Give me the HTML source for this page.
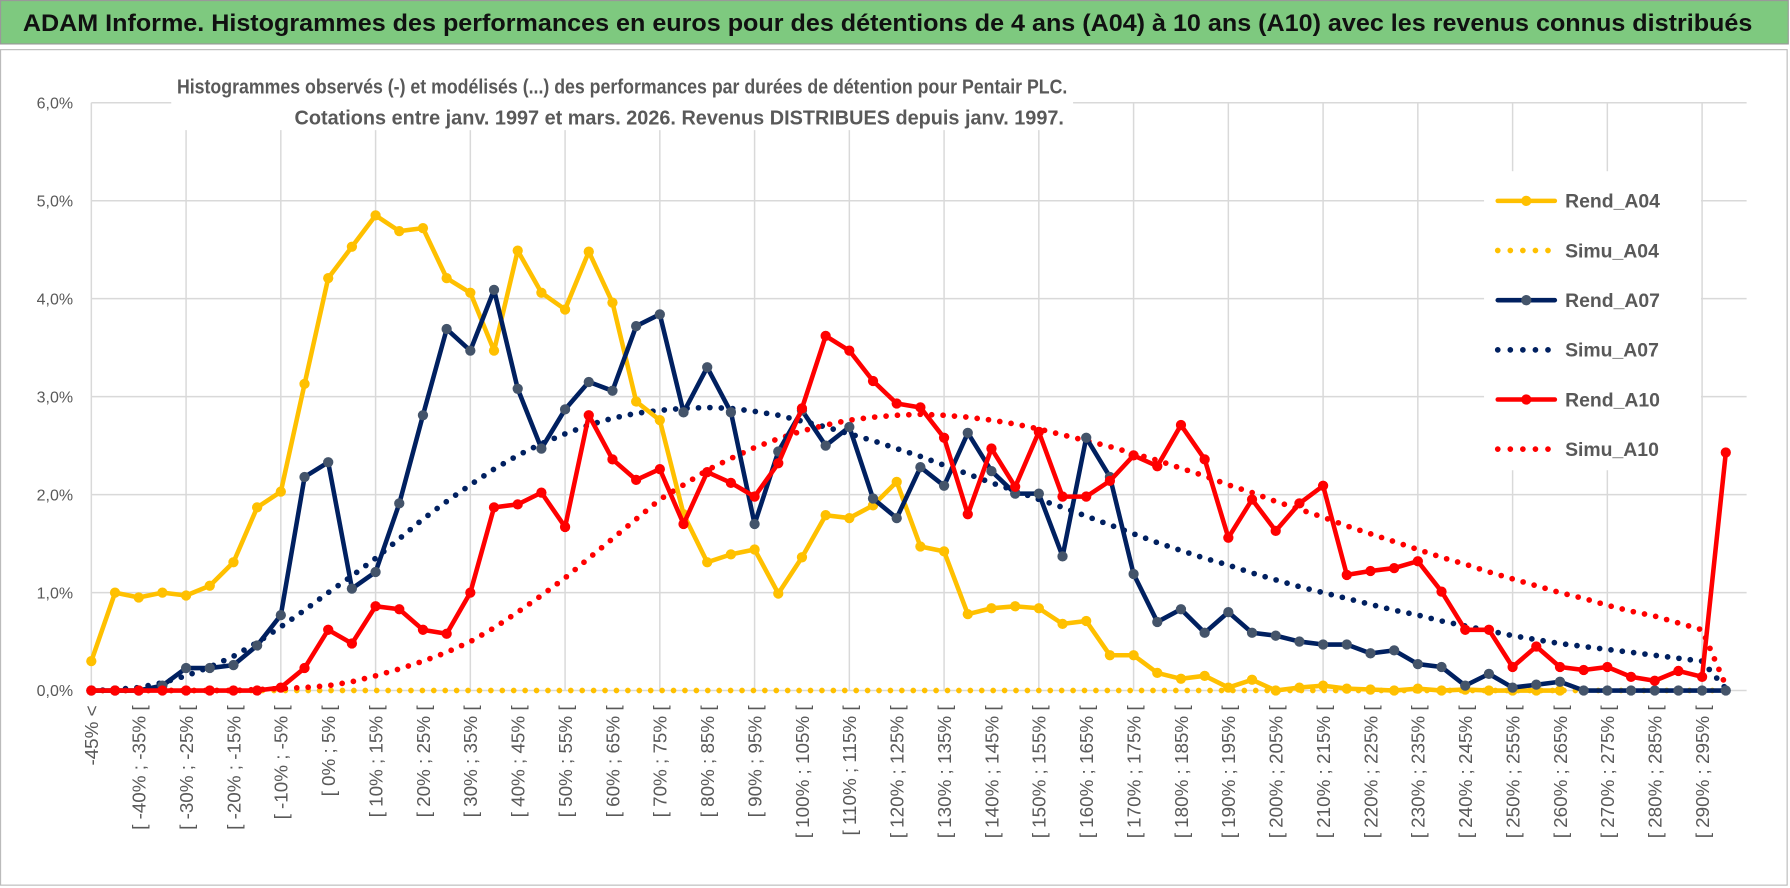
<!DOCTYPE html>
<html><head><meta charset="utf-8"><style>
html,body{margin:0;padding:0;background:#fff;}
svg{display:block;}
text{font-family:"Liberation Sans",sans-serif;}
</style></head><body>
<svg id="chart" width="1790" height="888" viewBox="0 0 1568 778" preserveAspectRatio="none" xmlns="http://www.w3.org/2000/svg">
<rect x="0" y="0" width="1568" height="778" fill="#fff"/>
<rect x="0.5" y="0.5" width="1566" height="38" fill="#7EC97F" stroke="#999" stroke-width="1"/>
<text x="20" y="27" font-size="21" font-weight="bold" fill="#111" textLength="1515" lengthAdjust="spacingAndGlyphs">ADAM Informe. Histogrammes des performances en euros pour des détentions de 4 ans (A04) à 10 ans (A10) avec les revenus connus distribués</text>
<rect x="0.5" y="43.5" width="1565" height="732" fill="#fff" stroke="#bbb" stroke-width="1"/>
<g id="grid"></g>
<g id="yaxis"></g>
<g id="xaxis"></g>
<rect x="150" y="58" width="790" height="56" fill="#fff"/>
<text x="155" y="82" font-size="18" font-weight="bold" fill="#595959" textLength="780" lengthAdjust="spacingAndGlyphs">Histogrammes observés (-) et modélisés (...) des performances par durées de détention pour Pentair PLC.</text>
<text x="258" y="109" font-size="18" font-weight="bold" fill="#595959" textLength="674" lengthAdjust="spacingAndGlyphs">Cotations entre janv. 1997 et mars. 2026. Revenus DISTRIBUES depuis janv. 1997.</text>
<g id="series"></g>
<g id="legend"></g>
</svg>
<script>
const yTicks = [0,1,2,3,4,5,6];
const yTickLabels = ["0,0%","1,0%","2,0%","3,0%","4,0%","5,0%","6,0%"];
const binStarts = [-45,-40,-35,-30,-25,-20,-15,-10,-5,0,5,10,15,20,25,30,35,40,45,50,55,60,65,70,75,80,85,90,95,100,105,110,115,120,125,130,135,140,145,150,155,160,165,170,175,180,185,190,195,200,205,210,215,220,225,230,235,240,245,250,255,260,265,270,275,280,285,290,295];
const rendA04 = [0.30,1.00,0.95,1.00,0.97,1.07,1.31,1.87,2.03,3.13,4.21,4.53,4.85,4.69,4.72,4.21,4.06,3.47,4.49,4.06,3.89,4.48,3.96,2.95,2.76,1.80,1.31,1.39,1.44,0.99,1.36,1.79,1.76,1.89,2.13,1.47,1.42,0.78,0.84,0.86,0.84,0.68,0.71,0.36,0.36,0.18,0.12,0.15,0.03,0.11,0.00,0.03,0.05,0.02,0.01,0.00,0.02,0.00,0.01,0.00,0.00,0.00,0.00,null,null,null,null,null,null,null];
const simuA04 = [0,0,0,0,0,0,0,0,0,0,0,0,0,0,0,0,0,0,0,0,0,0,0,0,0,0,0,0,0,0,0,0,0,0,0,0,0,0,0,0,0,0,0,0,0,0,0,0,0,0,0,0,0,0,0,0,0,0,0,0,0,0,0,0,0,0,0,0,0,0];
const rendA07 = [0,0,0,0.05,0.23,0.23,0.26,0.46,0.77,2.18,2.33,1.04,1.21,1.91,2.81,3.69,3.47,4.09,3.08,2.47,2.87,3.15,3.06,3.72,3.84,2.84,3.30,2.84,1.70,2.44,2.86,2.50,2.69,1.96,1.76,2.28,2.09,2.63,2.24,2.01,2.01,1.37,2.58,2.18,1.19,0.70,0.83,0.59,0.80,0.59,0.56,0.50,0.47,0.47,0.38,0.41,0.27,0.24,0.05,0.17,0.03,0.06,0.09,0,0,0,0,0,0,0];
const simuA07 = [0,0.01,0.03,0.08,0.15,0.24,0.35,0.49,0.65,0.82,1.00,1.17,1.35,1.55,1.75,1.93,2.10,2.26,2.40,2.52,2.62,2.71,2.78,2.83,2.86,2.88,2.89,2.88,2.85,2.81,2.75,2.69,2.62,2.55,2.47,2.39,2.30,2.21,2.12,2.04,1.95,1.87,1.78,1.69,1.60,1.51,1.43,1.35,1.28,1.20,1.13,1.06,1.00,0.94,0.88,0.82,0.77,0.71,0.66,0.61,0.56,0.52,0.48,0.45,0.42,0.39,0.36,0.33,0.30,0.02];
const rendA10 = [0,0,0,0,0,0,0,0,0.03,0.23,0.62,0.48,0.86,0.83,0.62,0.58,1.00,1.87,1.90,2.02,1.67,2.81,2.36,2.15,2.26,1.70,2.23,2.12,1.98,2.32,2.88,3.62,3.47,3.16,2.93,2.89,2.58,1.80,2.47,2.08,2.64,1.98,1.98,2.14,2.40,2.29,2.71,2.36,1.56,1.95,1.63,1.91,2.09,1.18,1.22,1.25,1.32,1.01,0.62,0.62,0.24,0.45,0.24,0.21,0.24,0.14,0.10,0.20,0.14,2.43];
const simuA10 = [0,0,0,0,0,0,0,0.01,0.02,0.03,0.05,0.09,0.15,0.22,0.30,0.39,0.50,0.64,0.80,0.97,1.15,1.35,1.55,1.75,1.95,2.10,2.25,2.37,2.48,2.57,2.65,2.71,2.76,2.79,2.81,2.82,2.81,2.79,2.76,2.72,2.67,2.61,2.55,2.49,2.42,2.35,2.27,2.19,2.10,2.02,1.93,1.85,1.77,1.68,1.60,1.52,1.44,1.36,1.29,1.21,1.14,1.07,1.00,0.94,0.87,0.81,0.76,0.69,0.62,0.05];

const NS="http://www.w3.org/2000/svg";
const X0=80, STEP=20.75, Y0=605, PXPCT=85.83;
function xPos(i){return X0+i*STEP;}
function yPos(v){return Y0-v*PXPCT;}
function mk(tag,attrs,parent){const e=document.createElementNS(NS,tag);for(const k in attrs)e.setAttribute(k,attrs[k]);parent.appendChild(e);return e;}

const categories=["-45% <"].concat(binStarts.map(b=>"[ "+b+"% ; "+(b+5)+"% ["));
const grid=document.getElementById('grid'), yax=document.getElementById('yaxis'), xax=document.getElementById('xaxis');
yTicks.forEach((t,k)=>{
  const l=mk('line',{x1:X0,x2:1530,y1:yPos(t),y2:yPos(t),stroke:'#d9d9d9','stroke-width':1.3},grid);
  
  
  const tx=mk('text',{x:64,y:yPos(t)+5,'font-size':14,fill:'#595959','text-anchor':'end'},yax);
  
  
  tx.textContent=yTickLabels[k];
});
for(let i=0;i<categories.length;i+=4){
  const l=mk('line',{x1:xPos(i),x2:xPos(i),y1:yPos(6),y2:Y0,stroke:'#d9d9d9','stroke-width':1.3},grid);
  
  
}
for(let i=0;i<categories.length;i+=2){
  const x=xPos(i)+6;
  const tx=mk('text',{x:0,y:0,'font-size':16.5,fill:'#595959','text-anchor':'end',transform:'translate('+x+',618) rotate(-90)'},xax);
  
  
  tx.textContent=categories[i];
}

const series=document.getElementById('series');
function drawSeries(vals,color,dotted,markerColor,name){
  const g=mk('g',{},series);
  
  
  let d='';
  vals.forEach((v,i)=>{if(v===null)return;d+=(d?'L':'M')+xPos(i).toFixed(1)+','+yPos(v).toFixed(1);});
  const p=mk('path',{d:d,fill:'none',stroke:color,'stroke-width':dotted?5:4,'stroke-linejoin':'round','stroke-linecap':'round'},g);
  if(dotted)p.setAttribute('stroke-dasharray','0 10');
  
  
  if(!dotted){vals.forEach((v,i)=>{if(v===null)return;
    const c=mk('circle',{cx:xPos(i),cy:yPos(v),r:4.5,fill:markerColor},g);
    
    
  });}
}
drawSeries(simuA04,'#FFC000',true,null,'simu-a04');
drawSeries(simuA07,'#002060',true,null,'simu-a07');
drawSeries(simuA10,'#FF0000',true,null,'simu-a10');
drawSeries(rendA04,'#FFC000',false,'#FFC000','rend-a04');
drawSeries(rendA07,'#002060',false,'#44546A','rend-a07');
drawSeries(rendA10,'#FF0000',false,'#FF0000','rend-a10');

const legendNames=["Rend_A04","Simu_A04","Rend_A07","Simu_A07","Rend_A10","Simu_A10"];
const legendColors=["#FFC000","#FFC000","#002060","#002060","#FF0000","#FF0000"];
const lg=document.getElementById('legend');
mk('rect',{x:1300,y:150,width:190,height:262,fill:'#fff'},lg);
legendNames.forEach((n,k)=>{
  const y=176+k*43.5;
  const e=mk('g',{},lg);
  
  
  const dotted=n.startsWith('Simu');
  const l=mk('line',{x1:1312,x2:1362,y1:y,y2:y,stroke:legendColors[k],'stroke-width':dotted?5:4,'stroke-linecap':'round'},e);
  if(dotted)l.setAttribute('stroke-dasharray','0 11');
  if(!dotted)mk('circle',{cx:1337,cy:y,r:4.5,fill:k===2?'#44546A':legendColors[k]},e);
  const t=mk('text',{x:1371,y:y+6,'font-size':17,'font-weight':'bold',fill:'#595959'},e);
  t.textContent=n;
});
</script>
</body></html>
